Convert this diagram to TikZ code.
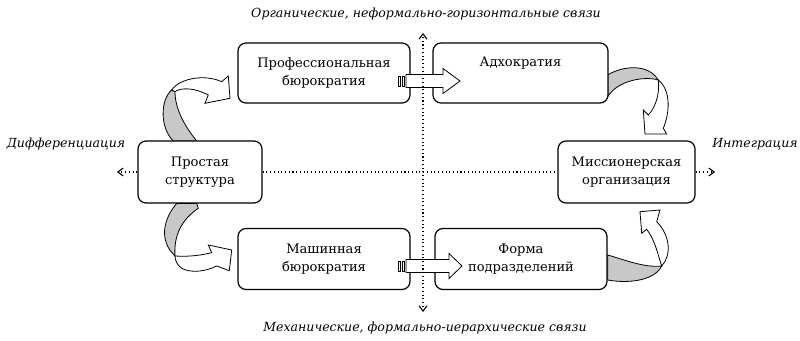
\documentclass[tikz,border=0pt]{standalone}
\usepackage{fontspec}
\setmainfont{DejaVu Serif}
\usetikzlibrary{arrows.meta,calc}
\definecolor{ribbon}{RGB}{200,200,200}
\newcommand\blkarrow[3]{% #1 centre y, #2 head x, #3 tip x
  \draw[barrow] (398,{#1-5}) rectangle (400.5,{#1+5});
  \draw[barrow] (402,{#1-5}) rectangle (404.5,{#1+5});
  \draw[barrow] (406,{#1-6.5}) -- (#2,{#1-6.5}) -- (#2,{#1-12.5}) -- (#3,#1)
     -- (#2,{#1+12.5}) -- (#2,{#1+6.5}) -- (406,{#1+6.5}) -- cycle;}
\begin{document}
\begin{tikzpicture}[x=0.75pt,y=-0.75pt,
  box/.style={draw, line width=0.9pt, rounded corners=6pt, fill=white, align=center,
    font=\fontsize{9.8}{13.5}\selectfont, inner sep=0pt},
  lbl/.style={font=\fontsize{9.4}{12}\selectfont\itshape, inner sep=0pt},
  axisline/.style={dotted, line width=0.8pt},
  axtip/.style={-{Straight Barb[length=4pt,width=6pt]}},
  barrow/.style={draw, fill=white, line width=0.6pt, line join=miter},
  rib/.style={draw, fill=ribbon, line width=0.6pt},
  wht/.style={draw, fill=white, line width=0.6pt}]
\useasboundingbox (0,0) rectangle (800,341);

% axis end points
\coordinate (vtop) at (423,33);
\coordinate (vbot) at (423,312);
\coordinate (hleft) at (117,172);
\coordinate (hright) at (715,172);

% curved arrows (drawn behind boxes)
% upper left
\draw[rib] (173.3,141) .. controls (160,128) and (160,100) .. (171.7,90)
  -- (175,91.7) .. controls (175,110) and (186,128) .. (196.7,141) -- cycle;
\draw[wht] (171.7,90) .. controls (180,78) and (205,74) .. (221.7,81.7)
  -- (228.3,76) -- (230,98.3) -- (205,103.3) -- (208.3,95)
  .. controls (195,88) and (182,87) .. (175,91.7) -- cycle;
% lower left
\draw[rib] (176.7,203.5) .. controls (164,218) and (158,240) .. (175,256)
  .. controls (174,240) and (178,222) .. (198.3,208.3) -- (196.7,203.5) -- cycle;
\draw[wht] (175,256) .. controls (190,257) and (202,255) .. (211.7,252.7)
  -- (208.3,245) -- (231.7,250) -- (229.3,270.7) -- (216.7,266)
  .. controls (205,272) and (190,273) .. (181.7,268.3)
  .. controls (177,265) and (175,260) .. (175,256) -- cycle;
% upper right
\draw[rib] (607.7,75) .. controls (622,66) and (648,63) .. (658.3,80)
  .. controls (645,76) and (618,80) .. (607.7,96.7) -- cycle;
\draw[wht] (658.3,80) .. controls (660,95) and (655,108) .. (648.3,115)
  -- (643.3,110) -- (645,134) -- (666.7,134) -- (663.3,128.3)
  .. controls (670,112) and (671,90) .. (658.3,80) -- cycle;
% lower right
\draw[rib] (607.7,255) .. controls (625,260) and (645,268) .. (661.7,266)
  .. controls (655,280) and (630,284) .. (607.7,280) -- cycle;
\draw[wht] (661.7,266) .. controls (672,255) and (670,235) .. (656.7,221.7)
  -- (660,210) -- (640,211.7) -- (641.7,233.3) -- (646.7,229.3)
  .. controls (655,240) and (658,255) .. (661.7,266) -- cycle;

% boxes
\node[box, minimum width=129pt, minimum height=45pt] (prof) at (324,73)
  {Профессиональная\\бюрократия};
\node[box, minimum width=131.25pt, minimum height=45pt] (adh) at (520.5,73)
  {Адхократия\\\strut};
\node[box, minimum width=93pt, minimum height=46.5pt] (simple) at (200,172)
  {Простая\\структура};
\node[box, minimum width=102.75pt, minimum height=46.5pt] (miss) at (626.5,172)
  {Миссионерская\\организация};
\node[box, minimum width=129pt, minimum height=45.75pt] (mach) at (324,259)
  {Машинная\\бюрократия};
\node[box, minimum width=129pt, minimum height=45.75pt] (form) at (521,259)
  {Форма\\подразделений};

% horizontal axis
\draw[axisline, axtip] (simple.west |- hleft) -- (hleft);
\draw[axisline] (simple.east |- hleft) -- (miss.west |- hright);
\draw[axisline, axtip] (miss.east |- hright) -- (hright);

% block arrows
\blkarrow{81}{443}{460}
\blkarrow{266}{449}{462}

% vertical axis
\draw[axisline, {Straight Barb[length=4pt,width=6pt]}-{Straight Barb[length=4pt,width=6pt]}] (vbot) -- (vtop);

% labels
\node[lbl] (ltop) at (426,14) {Органические, неформально-горизонтальные связи};
\node[lbl] (lbot) at (425,328) {Механические, формально-иерархические связи};
\node[lbl] (lleft) at (66,144) {Дифференциация};
\node[lbl] (lright) at (755,144) {Интеграция};
\end{tikzpicture}
\end{document}
